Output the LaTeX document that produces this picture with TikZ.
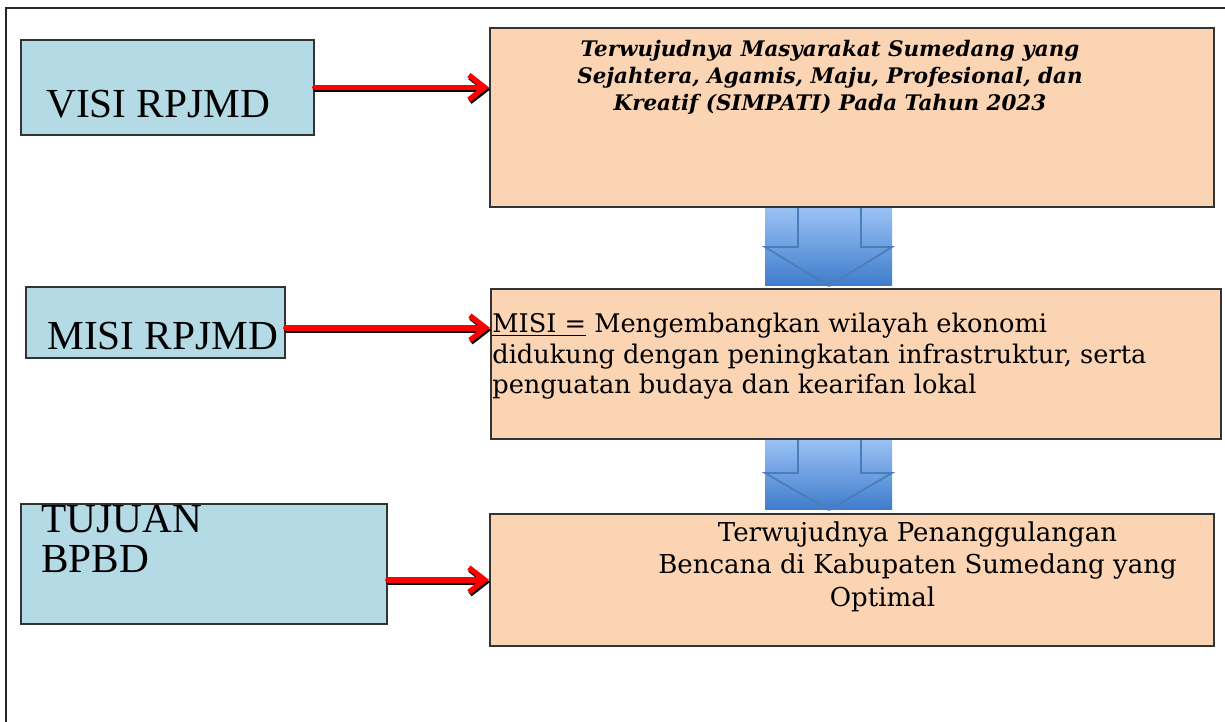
\documentclass[tikz,border=0pt]{standalone}
\usepackage{fontspec}
\setmainfont{DejaVu Serif}
\newfontfamily\labelfont{Liberation Serif}
\usetikzlibrary{arrows.meta,positioning}
\definecolor{boxblue}{HTML}{B4DAE6}
\definecolor{boxpeach}{HTML}{FBD4B4}
\definecolor{arrowtop}{HTML}{9DC3F6}
\definecolor{arrowbot}{HTML}{3E7CCB}
\definecolor{arrowline}{HTML}{4A7EBB}
\definecolor{framegray}{HTML}{333333}
\tikzset{
  leftbox/.style={draw=framegray, line width=1pt, fill=boxblue, anchor=north west, inner sep=0pt},
  rightbox/.style={draw=framegray, line width=1pt, fill=boxpeach, anchor=north west, inner sep=0pt},
  biglabel/.style={font=\labelfont\fontsize{23.5}{26}\selectfont, inner sep=0pt},
  linkarrow/.style={draw=red, line width=3pt, -{Straight Barb[length=9pt,width=14pt]}, line cap=round, line join=round},
  linkshadow/.style={linkarrow, draw=black, transform canvas={xshift=0.6pt,yshift=-1.2pt}}
}
\begin{document}
\begin{tikzpicture}
    \useasboundingbox (0,0) rectangle (24.5,-14.44);
    % outer frame
    \draw[line width=0.8pt, black!85] (24.5,-0.16) -- (0.12,-0.16) -- (0.12,-14.44);
    % block arrows between the right boxes
    \foreach \ytop/\ywing/\ybot in {4.12/4.94/5.72, 8.76/9.46/10.2} {
      \shade[top color=arrowtop, bottom color=arrowbot] (15.3,-\ytop) rectangle (17.84,-\ybot);
      \draw[arrowline, line width=1pt] (15.96,-\ytop) -- (15.96,-\ywing) -- (15.3,-\ywing)
        -- (16.58,-\ybot) -- (17.84,-\ywing) -- (17.22,-\ywing) -- (17.22,-\ytop) -- cycle;
    }
    % left boxes
    \node[leftbox, minimum width=5.86cm, minimum height=1.9cm] (visi) at (0.4,-0.78) {};
    \node[leftbox, minimum width=5.18cm, minimum height=1.42cm] (misi) at (0.5,-5.72) {};
    \node[leftbox, minimum width=7.32cm, minimum height=2.4cm] (tujuan) at (0.4,-10.06) {};
    % right boxes
    \node[rightbox, minimum width=14.48cm, minimum height=3.58cm] (visitext) at (9.78,-0.54) {};
    \node[rightbox, minimum width=14.6cm, minimum height=3.0cm] (misitext) at (9.8,-5.76) {};
    \node[rightbox, minimum width=14.48cm, minimum height=2.64cm] (tujuantext) at (9.78,-10.26) {};
    % labels
    \node[biglabel, anchor=base west] (visilbl) at (0.92,-2.36) {VISI RPJMD};
    \node[biglabel, anchor=base west] (misilbl) at (0.94,-7.0) {MISI RPJMD};
    \node[biglabel, anchor=base west] (tujuanlbl) at (0.82,-10.66) {TUJUAN};
    \node[biglabel, anchor=base west] (bpbdlbl) at (0.82,-11.44) {BPBD};
    \node[font=\bfseries\itshape\fontsize{12.2}{15.4}\selectfont, align=center, anchor=north, inner sep=0pt]
      (visitxt) at (16.6,-0.8) {Terwujudnya Masyarakat Sumedang yang\\Sejahtera, Agamis, Maju, Profesional, dan\\Kreatif (SIMPATI) Pada Tahun 2023};
    \node[font=\fontsize{14.6}{17.4}\selectfont, align=left, anchor=north west, inner sep=0pt]
      (misitxt) at (9.84,-6.26) {\underline{MISI =} Mengembangkan wilayah ekonomi\\didukung dengan peningkatan infrastruktur, serta\\penguatan budaya dan kearifan lokal};
    \node[font=\fontsize{14.8}{18.7}\selectfont, align=center, anchor=north, inner sep=0pt]
      (tujuantxt) at (18.35,-10.42) {Terwujudnya Penanggulangan\\Bencana di Kabupaten Sumedang yang\\Optimal\hspace*{1.4cm}};
    % red links
    \foreach \src/\dst/\dy in {visi/visitext/0cm, misi/misitext/-0.11cm, tujuan/tujuantext/-0.32cm} {
      \coordinate (start) at ([yshift=\dy]\src.east);
      \draw[linkshadow] (start) -- (start -| \dst.west);
      \draw[linkarrow] (start) -- (start -| \dst.west);
    }
\end{tikzpicture}
\end{document}
